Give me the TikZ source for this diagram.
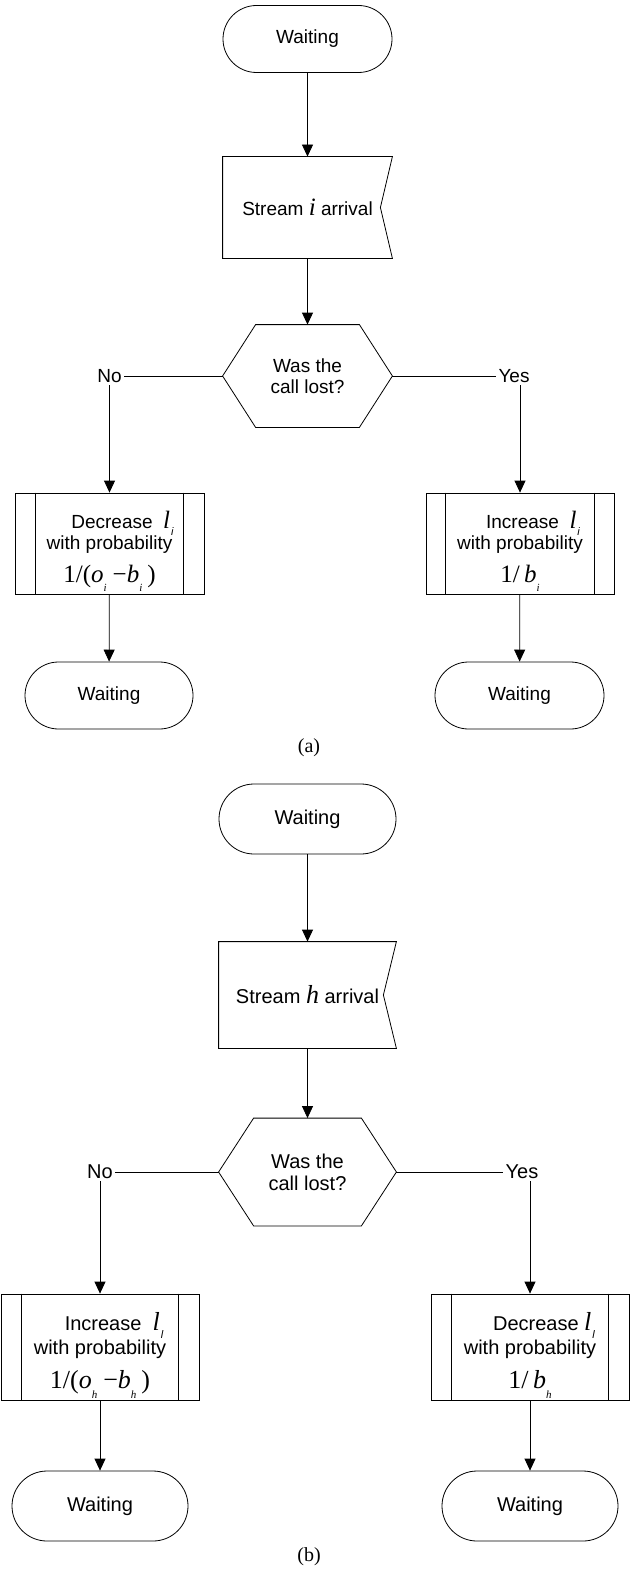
\documentclass[tikz,border=0pt]{standalone}
\usepackage{fontspec}
\setmainfont{Liberation Sans}
\newfontfamily\tnr{Liberation Serif}
\usetikzlibrary{arrows.meta}
\newcommand\sbs[1]{\raisebox{-0.38em}{\fontsize{11}{11}\selectfont\itshape #1}}
\newcommand\mfA{\tnr\fontsize{25}{25}\selectfont}
\newcommand\mfB{\tnr\fontsize{26}{26}\selectfont}
\begin{document}
\begin{tikzpicture}[x=1pt,y=-1pt,line width=0.8pt,
  arr/.style={-{Triangle[length=12pt,width=11pt]}},
  txtA/.style={font=\fontsize{19}{21}\selectfont, inner sep=0pt},
  txtB/.style={font=\fontsize{20}{22}\selectfont, inner sep=0pt},
  termA/.style={txtA, draw, rounded corners=33.5pt, minimum width=169pt, minimum height=67pt},
  termB/.style={txtB, draw, rounded corners=35pt, minimum width=177pt, minimum height=70pt},
  lblA/.style={txtA, inner sep=2pt},
  lblB/.style={txtB, inner sep=2pt},
  captxt/.style={font=\tnr\fontsize{20}{20}\selectfont, inner sep=0pt}]
\useasboundingbox (0,0) rectangle (633,1570);

% ---------------- (a) ----------------
\node[termA] (wa) at (307.5,39) {Waiting};
\node[txtA, minimum width=169pt, minimum height=101pt] (sa) at (307.5,207.5)
  {Stream {\mfA\itshape i} arrival\hspace{12pt}};
\draw (sa.north west) -- (sa.north east) -- ([xshift=-12pt]sa.east) -- (sa.south east) -- (sa.south west) -- cycle;
\node[txtA, align=center, minimum width=169pt, minimum height=102pt] (ha) at (307.5,376) {Was the\\call lost?};
\draw ([xshift=33pt]ha.north west) -- ([xshift=-33pt]ha.north east) -- (ha.east)
  -- ([xshift=-33pt]ha.south east) -- ([xshift=33pt]ha.south west) -- (ha.west) -- cycle;
\node[lblA] (noa) at (109.5,376) {No};
\node[lblA] (yesa) at (514,376) {Yes};

\node[txtA, draw, align=center, minimum width=189pt, minimum height=101pt] (da) at (109.5,543.5)
  {\rule{0pt}{33pt}\hspace*{26pt}Decrease\ \ {\mfA\itshape l}\hspace{1pt}\sbs{i}\\with probability\\[11pt]
   {\mfA 1/(\textit{o}\sbs{i}\hspace{6pt}−\textit{b}\sbs{i}\hspace{5pt})}};
\draw ([xshift=21pt]da.north west) -- ([xshift=21pt]da.south west);
\draw ([xshift=-21pt]da.north east) -- ([xshift=-21pt]da.south east);

\node[txtA, draw, align=center, minimum width=188pt, minimum height=101pt] (ia) at (520,543.5)
  {\rule{0pt}{33pt}\hspace*{26pt}Increase\ \ {\mfA\itshape l}\hspace{1pt}\sbs{i}\\with probability\\[11pt]
   {\mfA 1/\,\textit{b}\sbs{i}}};
\draw ([xshift=20pt]ia.north west) -- ([xshift=20pt]ia.south west);
\draw ([xshift=-20pt]ia.north east) -- ([xshift=-20pt]ia.south east);

\node[termA, minimum width=168pt] (wal) at (109,695.5) {Waiting};
\node[termA] (war) at (519.5,695.5) {Waiting};
\node[captxt] (capa) at (309,748) {(a)};

\draw[arr] (wa) -- (sa);
\draw[arr] (sa) -- (ha);
\draw (ha.west) -- (noa.east);
\draw (ha.east) -- (yesa.west);
\draw[arr] (da.north |- noa.south) -- (da.north);
\draw[arr] (ia.north |- yesa.south) -- (ia.north);
\draw[arr] (da) -- (wal);
\draw[arr] (ia) -- (war);

% ---------------- (b) ----------------
\node[termB] (wb) at (307.5,819) {Waiting};
\node[txtB, minimum width=177pt, minimum height=106pt] (sb) at (307.5,995)
  {Stream {\mfB\itshape h} arrival\hspace{13pt}};
\draw (sb.north west) -- (sb.north east) -- ([xshift=-13pt]sb.east) -- (sb.south east) -- (sb.south west) -- cycle;
\node[txtB, align=center, minimum width=177pt, minimum height=107pt] (hb) at (307.5,1172) {Was the\\call lost?};
\draw ([xshift=35pt]hb.north west) -- ([xshift=-35pt]hb.north east) -- (hb.east)
  -- ([xshift=-35pt]hb.south east) -- ([xshift=35pt]hb.south west) -- (hb.west) -- cycle;
\node[lblB] (nob) at (100,1172) {No};
\node[lblB] (yesb) at (522,1172) {Yes};

\node[txtB, draw, align=center, minimum width=198pt, minimum height=106pt] (ib) at (100,1347)
  {\rule{0pt}{35pt}\hspace*{28pt}Increase\ \ {\mfB\itshape l}\hspace{1pt}\sbs{l}\\with probability\\[11pt]
   {\mfB 1/(\textit{o}\sbs{h}\hspace{6pt}−\textit{b}\sbs{h}\hspace{5pt})}};
\draw ([xshift=21pt]ib.north west) -- ([xshift=21pt]ib.south west);
\draw ([xshift=-21pt]ib.north east) -- ([xshift=-21pt]ib.south east);

\node[txtB, draw, align=center, minimum width=198pt, minimum height=106pt] (db) at (530,1347)
  {\rule{0pt}{35pt}\hspace*{28pt}Decrease\ {\mfB\itshape l}\hspace{1pt}\sbs{l}\\with probability\\[11pt]
   {\mfB 1/\,\textit{b}\sbs{h}}};
\draw ([xshift=21pt]db.north west) -- ([xshift=21pt]db.south west);
\draw ([xshift=-21pt]db.north east) -- ([xshift=-21pt]db.south east);

\node[termB, minimum width=176pt] (wbl) at (100,1506) {Waiting};
\node[termB, minimum width=176pt] (wbr) at (530,1506) {Waiting};
\node[captxt] (capb) at (309,1557) {(b)};

\draw[arr] (wb) -- (sb);
\draw[arr] (sb) -- (hb);
\draw (hb.west) -- (nob.east);
\draw (hb.east) -- (yesb.west);
\draw[arr] (ib.north |- nob.south) -- (ib.north);
\draw[arr] (db.north |- yesb.south) -- (db.north);
\draw[arr] (ib) -- (wbl);
\draw[arr] (db) -- (wbr);
\end{tikzpicture}
\end{document}
